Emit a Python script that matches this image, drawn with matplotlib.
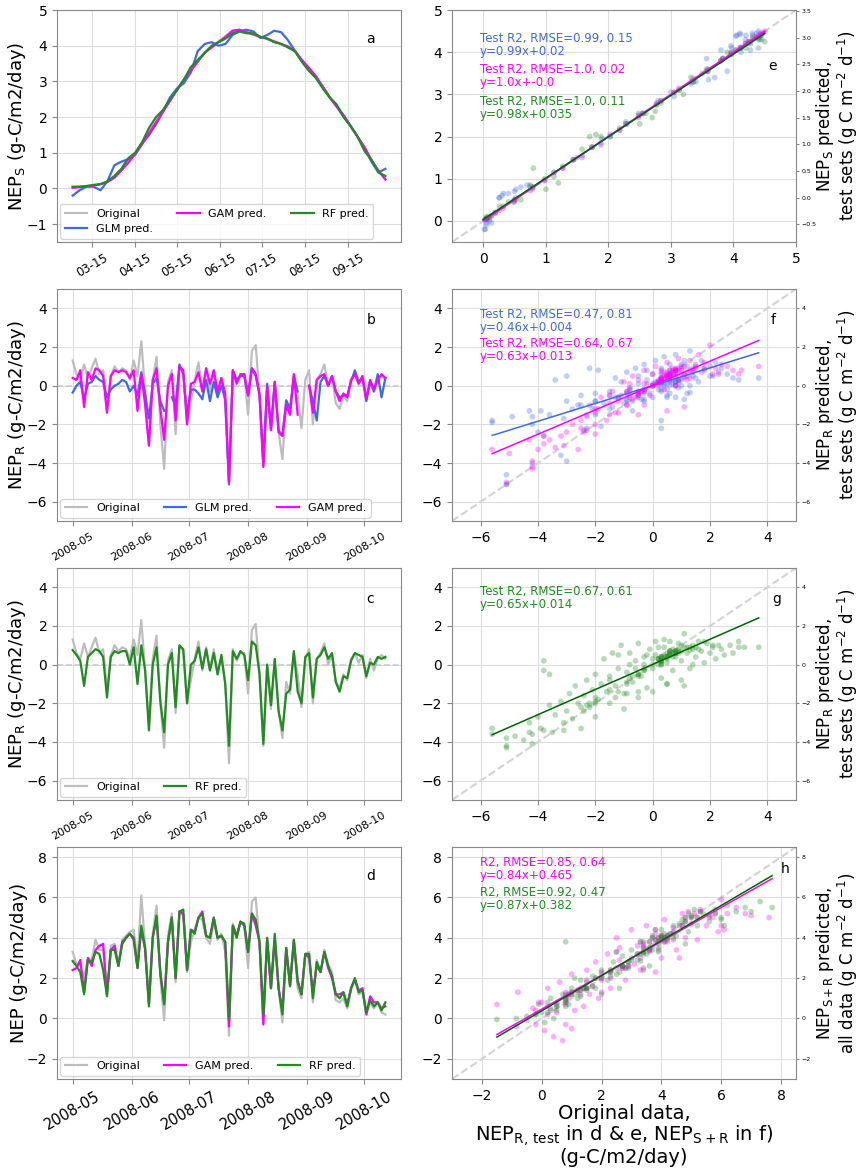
import numpy as np
import pandas as pd
import matplotlib
matplotlib.use("Agg")
import matplotlib.pyplot as plt
import matplotlib.dates as mdates

# ---- panel a: seasonal NEP_S, every 5 days from 1 Mar ----
a_dates = pd.date_range("2008-03-01", periods=46, freq="5D")
a_orig = [0.03, 0.05, 0.06, 0.09, 0.13, 0.19, 0.32, 0.52, 0.75, 0.98,
          1.27, 1.58, 1.88, 2.18, 2.48, 2.77, 3.05, 3.32, 3.57, 3.80,
          3.97, 4.12, 4.27, 4.42, 4.44, 4.37, 4.31, 4.24, 4.19, 4.11,
          4.04, 3.96, 3.83, 3.59, 3.36, 3.13, 2.84, 2.55, 2.28, 2.03,
          1.74, 1.44, 1.13, 0.79, 0.49, 0.26]
a_glm = [-0.20, -0.05, 0.05, 0.05, -0.05, 0.20, 0.65, 0.75, 0.82, 0.95,
         1.25, 1.50, 1.80, 2.15, 2.55, 2.80, 2.95, 3.25, 3.85, 4.05,
         4.10, 4.00, 4.05, 4.30, 4.40, 4.45, 4.40, 4.22, 4.30, 4.42,
         4.38, 4.15, 3.85, 3.55, 3.30, 3.10, 2.85, 2.55, 2.30, 2.00,
         1.75, 1.45, 1.15, 0.75, 0.45, 0.55]
a_gam = [0.02, 0.04, 0.06, 0.08, 0.12, 0.18, 0.30, 0.50, 0.72, 0.97,
         1.25, 1.55, 1.85, 2.15, 2.45, 2.76, 3.05, 3.30, 3.55, 3.80,
         3.95, 4.10, 4.25, 4.42, 4.45, 4.38, 4.32, 4.25, 4.20, 4.12,
         4.05, 3.98, 3.85, 3.60, 3.38, 3.15, 2.85, 2.55, 2.30, 2.05,
         1.75, 1.45, 1.15, 0.80, 0.50, 0.25]
a_rf = [0.05, 0.05, 0.07, 0.10, 0.12, 0.20, 0.35, 0.55, 0.85, 1.00,
        1.30, 1.70, 2.00, 2.20, 2.50, 2.75, 3.05, 3.40, 3.60, 3.80,
        4.00, 4.10, 4.20, 4.35, 4.40, 4.35, 4.35, 4.25, 4.20, 4.10,
        4.05, 3.95, 3.85, 3.55, 3.30, 3.10, 2.80, 2.55, 2.35, 2.00,
        1.75, 1.45, 1.05, 0.80, 0.45, 0.35]

# ---- panels b/c: NEP_R, every 2 days from 1 May ----
r_dates = pd.date_range("2008-05-01", periods=83, freq="2D")
nan = np.nan
b_orig = [1.3, 0.6, 0.3, 1.1, 0.4, 0.9, 1.4, 0.6, 0.8, -1.3,
          0.5, 1.0, 0.7, 0.9, 0.8, 0.3, 1.3, 0.5, 2.3, -0.3,
          -3.1, 0.3, 1.5, -2.0, -4.3, 0.2, 0.8, -2.5, 1.0, 0.7,
          -2.0, -0.8, 0.3, 1.2, -0.3, 0.9, -0.3, 0.8, -0.5, 0.4,
          -0.9, -5.1, 0.8, 0.2, 0.6, 0.6, -1.5, 1.8, 2.1, -0.5,
          -4.2, 0.0, -2.3, 0.2, -2.4, -3.8, -0.9, -1.5, 0.6, -0.5,
          -2.2, 0.3, 0.8, -2.0, 0.3, 0.6, 1.1, 0.0, 0.5, -0.9,
          -1.2, -0.5, -0.8, 0.3, 0.6, 0.1, 0.5, -0.7, 0.3, -0.3,
          0.3, 0.5, 0.3]
b_glm = [-0.35, 0.0, 0.2, -0.7, 0.1, 0.2, 0.5, 0.3, 0.2, -0.6,
         -0.2, 0.0, 0.1, 0.3, 0.2, -0.3, 0.0, -0.5, 0.7, -0.4,
         -1.7, 0.1, 0.4, -0.8, -1.3, nan, -0.6, -1.0, 1.1, 0.6,
         -1.5, -0.2, -0.2, -0.4, -0.7, 0.3, -0.8, 0.2, -0.6, 0.0,
         -0.7, -5.1, 0.8, 0.3, 0.5, 0.5, -0.5, 0.9, 0.5, -0.4,
         -4.0, 0.1, -2.2, 0.2, -2.3, -2.6, -0.75, -1.2, 0.5, -0.3,
         nan, nan, 0.0, -0.8, -1.8, 0.2, 0.5, 0.0, 0.5, -0.3,
         -0.6, -0.5, -0.5, 0.2, 0.8, 0.2, 0.4, -0.8, 0.2, -0.3,
         0.6, -0.6, 0.4]
b_gam = [0.4, 0.3, 0.8, -1.1, 0.7, 0.3, 0.9, 0.8, 0.5, -1.4,
         0.5, 0.8, 0.7, 0.8, 0.7, 0.4, 0.8, -1.3, 0.6, -1.0,
         -3.1, 0.3, 0.9, -1.2, -2.8, 0.0, 0.6, -1.8, 1.0, 0.8,
         -2.0, 0.1, 0.2, 0.7, -0.3, 0.9, 0.1, 0.8, -0.3, 0.4,
         -0.4, -5.0, 0.8, 0.1, 0.6, 0.6, -0.5, 0.9, 0.6, -0.5,
         -4.2, 0.0, -2.3, 0.2, -2.4, -2.6, -1.0, -1.5, 0.6, -1.5,
         nan, nan, 0.0, -1.4, 0.3, 0.5, 0.6, 0.0, 0.5, -0.3,
         -0.8, -0.4, -0.6, 0.3, 0.6, 0.1, 0.5, -0.7, 0.3, -0.2,
         0.3, 0.6, 0.4]
c_rf = [0.75, 0.5, 0.2, -1.1, 0.4, 0.6, 0.8, 0.7, 0.4, -1.7,
        0.4, 0.7, 0.6, 0.7, 0.7, 0.0, 0.9, -1.0, 1.0, -0.3,
        -3.4, 0.0, 0.9, -1.9, -3.5, 0.0, 0.6, -2.2, 1.0, 0.8,
        -2.0, 0.0, 0.2, 0.9, -0.2, 0.8, -0.3, 0.6, -0.5, 0.5,
        -1.0, -4.2, 0.7, 0.3, 0.7, 0.5, -0.8, 1.2, 1.0, -0.5,
        -4.1, 0.0, -2.1, 0.3, -2.4, -3.4, -1.5, -1.3, 0.7, -1.4,
        -2.0, 0.4, 0.6, -1.7, 0.3, 0.5, 0.9, 0.3, 0.6, -0.9,
        -1.4, -0.6, -0.7, 0.2, 0.6, 0.5, 0.4, -0.6, 0.1, 0.0,
        0.4, 0.3, 0.4]

# ---- panel d: NEP, every 2 days from 1 May ----
d_orig = [3.3, 2.7, 2.6, 2.0, 3.0, 2.9, 3.9, 3.4, 3.4, 1.3,
          3.6, 3.7, 2.7, 3.9, 4.1, 4.3, 4.4, 2.8, 6.1, 3.6,
          0.8, 4.2, 5.6, 2.0, -0.1, 4.1, 5.2, 1.8, 5.3, 5.1,
          2.3, 3.8, 4.4, 5.0, 4.9, 4.0, 3.7, 4.8, 3.9, 4.2,
          3.3, -0.85, 4.7, 4.0, 4.8, 4.6, 2.5, 5.8, 6.0, 3.6,
          -0.2, 4.0, 1.5, 4.1, 1.5, -0.2, 3.4, 1.7, 3.8, 1.5,
          1.0, 3.2, 3.3, 0.8, 2.9, 2.3, 3.4, 2.7, 2.3, 0.9,
          0.8, 1.0, 0.5, 1.4, 2.0, 1.2, 1.3, 0.2, 0.8, 0.5,
          0.8, 0.3, 0.2]
d_gam = [2.4, 2.5, 2.9, 1.3, 3.0, 2.6, 3.4, 3.6, 3.7, 1.2,
         3.4, 3.6, 2.6, 3.8, 4.0, 4.2, 3.9, 2.5, 4.4, 3.4,
         0.7, 4.0, 5.0, 2.3, 0.8, 3.8, 5.0, 2.0, 5.3, 5.2,
         2.4, 4.4, 4.3, 5.0, 5.3, 4.1, 4.0, 5.0, 4.0, 4.1,
         3.8, -0.4, 4.6, 4.1, 4.8, 4.6, 3.3, 5.2, 4.6, 3.8,
         -0.3, 3.9, 1.5, 3.9, 1.5, 0.4, 3.5, 1.6, 3.9, 1.9,
         1.2, 3.2, 3.0, 1.3, 2.6, 2.3, 3.3, 2.5, 2.0, 1.2,
         1.2, 1.3, 0.7, 1.5, 1.9, 1.4, 1.5, 0.2, 1.1, 0.8,
         0.8, 0.5, 0.6]
d_rf = [2.85, 2.6, 2.3, 1.2, 2.9, 2.8, 3.3, 3.2, 2.4, 1.1,
        3.4, 3.4, 2.6, 3.7, 4.0, 4.2, 4.0, 2.5, 4.6, 3.5,
        0.6, 4.0, 5.1, 2.2, 0.7, 3.8, 5.0, 2.0, 5.3, 5.4,
        2.4, 4.4, 4.2, 5.0, 5.2, 4.1, 4.0, 5.0, 4.0, 4.1,
        3.8, 0.0, 4.6, 4.0, 4.8, 4.7, 3.3, 5.2, 4.9, 3.8,
        0.2, 4.0, 1.5, 4.2, 1.5, 0.2, 3.5, 1.6, 3.9, 1.8,
        1.2, 3.2, 3.2, 1.0, 2.8, 2.3, 3.3, 2.6, 2.1, 1.2,
        1.0, 1.3, 0.6, 1.5, 2.0, 1.3, 1.4, 0.3, 0.9, 0.6,
        0.8, 0.4, 0.8]

# ---- other test-set points (x=original, y=pred) ----
e_glm_extra = [(0.02, -0.2), (0.05, -0.1), (0.1, 0.0), (0.25, 0.55), (0.3, 0.6),
               (0.4, 0.65), (0.5, 0.7), (0.6, 0.8), (0.7, 0.85), (1.9, 1.95),
               (2.8, 2.85), (3.4, 3.3), (3.6, 3.35), (3.7, 3.4), (4.05, 4.4),
               (4.1, 4.45), (4.2, 4.4), (4.3, 4.45), (4.4, 4.5), (4.4, 4.1),
               (4.45, 4.3), (3.9, 3.55), (3.0, 3.05), (2.3, 2.3)]
e_gam_extra = [(1.5, 1.5), (2.5, 2.5), (4.5, 4.5), (4.47, 4.45), (3.8, 3.8), (0.5, 0.5)]
e_rf_extra = [(0.8, 1.25), (1.0, 0.75), (1.2, 0.9), (1.7, 2.0), (1.8, 2.05), (2.5, 2.3),
              (2.6, 2.55), (2.7, 2.45), (2.75, 2.6), (3.2, 3.0), (3.5, 3.5), (3.9, 4.0),
              (4.2, 4.1), (4.4, 4.3), (4.5, 4.25), (0.05, 0.1), (0.4, 0.45), (0.6, 0.5)]

f_glm_extra = [(-5.6, -1.9), (-5.6, -1.8), (-5.1, -4.6), (-5.1, -5.1), (-4.9, -1.6),
               (-4.2, -1.6), (-4.2, -2.0), (-4.0, -2.4), (-3.9, -1.3), (-3.6, -1.5),
               (-3.4, 0.3), (-3.0, 0.5), (-3.2, -3.6), (-3.0, -3.9), (-3.0, -0.8),
               (-2.8, -1.2), (-2.6, -1.0), (-2.5, -0.5), (-2.3, -1.5), (-2.2, 0.9),
               (-2.1, -1.2), (-2.0, -0.4), (-1.9, 0.8), (-1.8, -2.1), (-1.7, -0.9),
               (-1.5, -0.3), (-1.4, -1.1), (-1.3, 0.4), (-1.2, -0.6), (-1.1, 0.2),
               (-1.0, -0.9), (-0.9, 0.7), (-0.8, -0.2), (-0.7, -1.3), (-0.6, 0.9),
               (-0.5, 0.1), (-0.4, -0.7), (-0.3, 1.1), (-0.2, 0.3), (-0.1, -0.4),
               (0.0, 0.6), (0.1, 1.3), (0.2, -0.2), (0.3, 0.9), (0.3, -2.2),
               (0.4, 1.5), (0.5, 0.1), (0.6, 1.1), (0.7, 0.4), (0.8, 1.6),
               (0.9, -0.1), (1.0, 0.9), (1.1, 1.3), (1.2, 0.5), (1.3, 1.8),
               (1.4, 0.7), (1.5, 1.1), (1.6, 0.2), (1.7, 1.3), (1.8, 0.8),
               (2.0, 0.5), (2.2, 1.2), (2.4, 0.9), (2.6, 0.6), (2.8, 0.4),
               (3.0, 0.3), (3.7, 0.4), (0.0, -0.6), (0.5, 0.7), (1.0, 0.3),
               (-0.5, 0.5), (0.8, 0.9), (1.2, 1.0), (-0.2, 0.8), (0.6, -0.4)]
f_gam_extra = [(-5.6, -3.3), (-5.0, -3.5), (-4.2, -4.3), (-4.2, -3.9), (-4.0, -3.3),
               (-3.8, -3.0), (-3.6, -2.8), (-3.4, -3.2), (-3.2, -2.6), (-3.0, -2.4),
               (-2.8, -2.0), (-2.6, -3.3), (-2.5, -2.2), (-2.3, -1.6), (-2.2, -1.0),
               (-2.0, -2.5), (-1.9, -1.2), (-1.8, -0.6), (-1.6, -1.8), (-1.5, -0.9),
               (-1.4, -0.3), (-1.2, -1.4), (-1.1, -0.5), (-1.0, 0.2), (-0.9, -1.0),
               (-0.8, -0.1), (-0.7, 0.5), (-0.6, -0.6), (-0.5, 0.3), (-0.4, -0.3),
               (-0.3, 0.8), (-0.2, 0.1), (-0.1, -0.5), (0.0, 0.6), (0.1, 1.0),
               (0.2, 0.2), (0.3, 0.7), (0.4, -0.2), (0.5, 1.2), (0.6, 0.4),
               (0.7, 0.9), (0.8, 0.0), (0.9, 1.4), (1.0, 0.6), (1.1, 1.0),
               (1.2, 0.3), (1.3, 1.3), (1.4, 0.8), (1.5, 1.0), (1.6, 1.6),
               (1.7, 0.7), (1.8, 1.2), (2.0, 1.0), (2.2, 0.9), (2.4, 1.1),
               (2.6, 1.0), (2.8, 0.8), (3.0, 0.6), (3.1, 0.8), (3.7, 1.0),
               (2.0, 2.1), (0.4, 0.5), (0.0, 0.0), (-0.3, -0.2), (0.8, 0.8), (1.1, 0.4)]
g_rf_extra = [(-5.6, -3.3), (-5.6, -3.6), (-5.1, -3.8), (-5.1, -4.3), (-4.8, -3.7),
              (-4.5, -3.9), (-4.3, -3.0), (-4.2, -3.6), (-4.0, -2.7), (-3.9, -3.3),
              (-3.8, 0.2), (-3.8, -0.3), (-3.6, -0.5), (-3.6, -2.1), (-3.5, -3.5),
              (-3.4, -2.6), (-3.2, -1.9), (-3.1, -3.0), (-3.0, -2.4), (-2.9, -1.5),
              (-2.8, -2.8), (-2.7, -1.1), (-2.6, -2.0), (-2.5, -3.3), (-2.4, -1.6),
              (-2.3, -0.8), (-2.2, -2.2), (-2.1, -1.3), (-2.0, -0.5), (-1.9, -1.8),
              (-1.8, -1.0), (-1.7, 0.3), (-1.6, -1.4), (-1.5, -0.6), (-1.4, 0.6),
              (-1.3, -1.1), (-1.2, -0.2), (-1.1, 1.0), (-1.0, -1.5), (-0.9, -0.4),
              (-0.8, 0.6), (-0.7, -0.9), (-0.6, 0.2), (-0.5, 1.1), (-0.4, -0.6),
              (-0.3, 0.4), (-0.2, -1.2), (-0.1, 0.8), (0.0, -0.2), (0.1, 1.2),
              (0.2, 0.3), (0.3, -0.7), (0.4, 0.9), (0.5, 0.1), (0.6, 1.2),
              (0.7, -0.3), (0.8, 0.7), (0.9, 1.1), (1.0, 0.2), (1.1, 1.6),
              (1.2, 0.6), (1.3, -0.2), (1.4, 1.0), (1.5, 0.4), (1.6, 1.2),
              (1.7, 0.7), (1.8, 0.1), (1.9, 1.1), (2.0, 0.6), (2.1, 0.9),
              (2.2, 0.3), (2.4, 0.8), (2.5, 0.5), (2.7, 1.0), (2.8, 0.6),
              (3.0, 0.9), (3.0, 1.2), (3.2, 0.9), (3.7, 0.9), (-1.0, -2.3),
              (-0.5, -1.7), (0.0, -1.4), (0.5, -1.0), (1.0, -0.8), (-2.0, -2.7),
              (-1.5, -2.0), (0.2, 0.9), (-0.6, -0.2), (0.7, 0.4), (-1.2, 0.5),
              (1.4, 0.0), (-0.2, 0.5), (0.4, 1.3), (1.6, 0.8)]
h_gam_extra = [(-1.5, 0.7), (-0.8, 1.3), (-0.5, -0.1), (-0.3, 0.5), (0.0, 0.8),
               (0.1, -0.6), (0.2, 1.5), (0.4, -0.9), (0.5, 0.3), (0.6, 1.8),
               (0.8, -0.3), (0.9, 1.0), (1.0, 2.2), (1.1, 0.4), (1.2, 1.4),
               (1.4, 0.6), (1.5, 2.4), (1.6, 1.2), (1.8, 2.8), (1.9, 1.0),
               (2.0, 2.0), (2.2, 3.2), (2.3, 1.5), (2.5, 2.5), (2.6, 3.5),
               (2.8, 1.9), (3.0, 4.4), (3.1, 2.7), (3.2, 3.6), (3.4, 2.5),
               (3.5, 4.6), (3.6, 3.3), (3.8, 4.2), (4.0, 3.0), (4.1, 4.9),
               (4.2, 3.8), (4.4, 4.5), (4.5, 3.4), (4.7, 5.2), (4.8, 4.0),
               (5.0, 4.7), (5.2, 3.9), (5.3, 5.4), (5.5, 4.6), (5.7, 5.0),
               (5.9, 4.3), (6.0, 5.9), (6.2, 5.2), (6.5, 5.5), (6.8, 5.2),
               (7.0, 5.1), (7.6, 5.0), (2.5, 4.0), (1.0, -0.5), (0.7, -1.1),
               (3.8, 2.3), (4.6, 3.0)]
h_rf_extra = [(-1.5, -0.05), (-0.5, 0.1), (0.0, 0.3), (0.1, -0.2), (0.3, 1.0),
              (0.5, 0.4), (0.7, 1.2), (0.8, 3.8), (0.9, 0.7), (1.0, 1.5),
              (1.2, 1.0), (1.3, 1.9), (1.5, 1.4), (1.7, 2.1), (1.8, 1.5),
              (2.0, 2.4), (2.2, 1.9), (2.4, 2.8), (2.5, 2.2), (2.7, 3.1),
              (2.9, 2.5), (3.0, 3.4), (3.2, 2.9), (3.4, 3.8), (3.5, 3.2),
              (3.7, 4.1), (3.9, 3.5), (4.0, 4.4), (4.2, 3.9), (4.4, 4.6),
              (4.5, 4.1), (4.7, 4.9), (4.9, 4.3), (5.0, 5.1), (5.2, 4.6),
              (5.4, 5.2), (5.6, 4.8), (5.8, 5.4), (6.0, 5.0), (6.2, 5.6),
              (6.5, 5.3), (6.8, 5.5), (7.0, 5.3), (7.3, 5.8), (7.7, 5.5),
              (2.6, 1.5), (3.6, 2.6), (1.1, 2.0), (4.8, 3.7), (0.4, 0.0)]

# ---- fit lines (slope, intercept) and their x extents, as printed ----
fit_e = {"GLM": (0.99, 0.02), "GAM": (1.0, -0.0), "RF": (0.98, 0.035)}
fit_f = {"GLM": (0.46, 0.004), "GAM": (0.63, 0.013)}
fit_g = {"RF": (0.65, 0.014)}
fit_h = {"GAM": (0.84, 0.465), "RF": (0.87, 0.382)}
xrange_e = [0.0, 4.5]
xrange_fg = [-5.6, 3.7]
xrange_h = [-1.5, 7.7]

stats_e = ["Test R2, RMSE=0.99, 0.15\ny=0.99x+0.02",
           "Test R2, RMSE=1.0, 0.02\ny=1.0x+-0.0",
           "Test R2, RMSE=1.0, 0.11\ny=0.98x+0.035"]
stats_f = ["Test R2, RMSE=0.47, 0.81\ny=0.46x+0.004",
           "Test R2, RMSE=0.64, 0.67\ny=0.63x+0.013"]
stats_g = ["Test R2, RMSE=0.67, 0.61\ny=0.65x+0.014"]
stats_h = ["R2, RMSE=0.85, 0.64\ny=0.84x+0.465",
           "R2, RMSE=0.92, 0.47\ny=0.87x+0.382"]

C_ORIG = "#BDBDBD"
C_GLM = "royalblue"
C_GAM = "magenta"
C_RF = "forestgreen"
FIT_COL = {"GLM": "royalblue", "GAM": "magenta", "RF": "darkgreen"}

fig = plt.figure(figsize=(8.6, 11.68), dpi=100)

LX, RX, W = 0.0663, 0.5256, 0.400
rows_b = [0.7928, 0.5539, 0.3151, 0.0762]
H = 0.1986


def pts(base_x, base_y, extra):
    xs = list(base_x) + [p[0] for p in extra]
    ys = list(base_y) + [p[1] for p in extra]
    return xs, ys


def style_ax(ax):
    for s in ax.spines.values():
        s.set_color("#888888")
    ax.grid(True, color="#DDDDDD", linewidth=0.8)
    ax.set_axisbelow(True)
    ax.tick_params(labelsize=10, color="#888888")


def ts_panel(ax, dates, series, letter, ylabel, ylim, yticks, date_fmt, tick_fs):
    style_ax(ax)
    for vals, col, lab in series:
        ax.plot(dates, vals, color=col, lw=1.6, label=lab)
    ax.set_ylim(*ylim)
    ax.set_yticks(yticks)
    ax.set_ylabel(ylabel, fontsize=13)
    ax.yaxis.set_label_coords(-0.085, 0.5)
    ax.text(0.9, 0.86 if letter in "ad" else 0.85, letter, transform=ax.transAxes,
            fontsize=10)
    ax.legend(loc="lower left", ncol=3, fontsize=8, framealpha=0.8,
              borderaxespad=0.3, columnspacing=2.2)
    ax.xaxis.set_major_formatter(mdates.DateFormatter(date_fmt))
    for lb in ax.get_xticklabels():
        lb.set_rotation(30)
        lb.set_fontsize(tick_fs)


def sc_panel(ax, clouds, fits, xr, stats, stat_y, letter, letter_xy, lim,
             ticks, right_lim, right_ticks, right_label):
    style_ax(ax)
    ax.plot([lim[0], 10], [lim[0], 10], ls="--", color="#D3D3D3", lw=1.5, zorder=1)
    for xv, yv, col in clouds:
        ax.scatter(xv, yv, s=17, color=col, alpha=0.32, edgecolors="none", zorder=2)
    for name, (m, c) in fits.items():
        xx = np.array(xr)
        ax.plot(xx, m * xx + c, color=FIT_COL[name], lw=1.1, zorder=3)
    cols = [col for _, _, col in clouds]
    for txt, yy, col in zip(stats, stat_y, cols):
        ax.text(0.08, yy, txt, transform=ax.transAxes, color=col, fontsize=8.5,
                va="top", linespacing=1.0)
    ax.text(letter_xy[0], letter_xy[1], letter, transform=ax.transAxes, fontsize=10)
    ax.set_xlim(lim[0], lim[1])
    ax.set_ylim(lim[2], lim[3])
    ax.set_xticks(ticks[0])
    ax.set_yticks(ticks[1])
    ax2 = ax.twinx()
    ax2.set_ylim(*right_lim)
    ax2.set_yticks(right_ticks)
    ax2.tick_params(labelsize=4.5, color="#888888", length=2.5, pad=1.5)
    for s in ax2.spines.values():
        s.set_visible(False)
    ax2.set_ylabel(right_label, fontsize=12, linespacing=1.0)
    ax2.yaxis.set_label_coords(1.052, 0.5)
    return ax2


# ---- left column ----
ax_a = fig.add_axes([LX, rows_b[0], W, H])
ts_panel(ax_a, a_dates,
         [(a_orig, C_ORIG, "Original"), (a_glm, C_GLM, "GLM pred."),
          (a_gam, C_GAM, "GAM pred."), (a_rf, C_RF, "RF pred.")],
         "a", r"NEP$_\mathrm{S}$ (g-C/m2/day)", (-1.5, 5), range(-1, 6),
         "%m-%d", 8.5)
ax_a.xaxis.set_major_locator(mdates.MonthLocator(bymonth=range(3, 10), bymonthday=15))

ax_b = fig.add_axes([LX, rows_b[1], W, H])
ax_b.axhline(0, color="#CCCCCC", ls="--", lw=1.2)
ts_panel(ax_b, r_dates,
         [(b_orig, C_ORIG, "Original"), (b_glm, C_GLM, "GLM pred."),
          (b_gam, C_GAM, "GAM pred.")],
         "b", r"NEP$_\mathrm{R}$ (g-C/m2/day)", (-7, 5), range(-6, 5, 2),
         "%Y-%m", 8)
ax_b.xaxis.set_major_locator(mdates.MonthLocator())

ax_c = fig.add_axes([LX, rows_b[2], W, H])
ax_c.axhline(0, color="#CCCCCC", ls="--", lw=1.2)
ts_panel(ax_c, r_dates,
         [(b_orig, C_ORIG, "Original"), (c_rf, C_RF, "RF pred.")],
         "c", r"NEP$_\mathrm{R}$ (g-C/m2/day)", (-7, 5), range(-6, 5, 2),
         "%Y-%m", 8)
ax_c.xaxis.set_major_locator(mdates.MonthLocator())

ax_d = fig.add_axes([LX, rows_b[3], W, H])
ts_panel(ax_d, r_dates,
         [(d_orig, C_ORIG, "Original"), (d_gam, C_GAM, "GAM pred."),
          (d_rf, C_RF, "RF pred.")],
         "d", "NEP (g-C/m2/day)", (-3, 8.5), range(-2, 9, 2),
         "%Y-%m", 10.5)
ax_d.xaxis.set_major_locator(mdates.MonthLocator())

# ---- right column ----
lab_rt = r"predicted," + "\n" + r"test sets (g C m$^{-2}$ d$^{-1}$)"
ax_e = fig.add_axes([RX, rows_b[0], W, H])
sc_panel(ax_e,
         [(*pts(a_orig, a_glm, e_glm_extra), C_GLM),
          (*pts(a_orig, a_gam, e_gam_extra), C_GAM),
          (*pts(a_orig, a_rf, e_rf_extra), C_RF)],
         fit_e, xrange_e, stats_e, [0.905, 0.77, 0.634], "e", (0.92, 0.74),
         (-0.5, 5, -0.5, 5), (range(0, 6), range(0, 6)),
         (-0.83, 3.52), np.arange(-0.5, 3.6, 0.5),
         r"NEP$_\mathrm{S}$ " + lab_rt)

ax_f = fig.add_axes([RX, rows_b[1], W, H])
sc_panel(ax_f,
         [(*pts(b_orig, b_glm, f_glm_extra), C_GLM),
          (*pts(b_orig, b_gam, f_gam_extra), C_GAM)],
         fit_f, xrange_fg, stats_f, [0.92, 0.795], "f", (0.925, 0.85),
         (-7, 5, -7, 5), (range(-6, 5, 2), range(-6, 5, 2)),
         (-7, 5), range(-6, 5, 2),
         r"NEP$_\mathrm{R}$ " + lab_rt)

ax_g = fig.add_axes([RX, rows_b[2], W, H])
sc_panel(ax_g, [(*pts(b_orig, c_rf, g_rf_extra), C_RF)],
         fit_g, xrange_fg, stats_g, [0.927], "g", (0.93, 0.85),
         (-7, 5, -7, 5), (range(-6, 5, 2), range(-6, 5, 2)),
         (-7, 5), range(-6, 5, 2),
         r"NEP$_\mathrm{R}$ " + lab_rt)

ax_h = fig.add_axes([RX, rows_b[3], W, H])
sc_panel(ax_h,
         [(*pts(d_orig, d_gam, h_gam_extra), C_GAM),
          (*pts(d_orig, d_rf, h_rf_extra), C_RF)],
         fit_h, xrange_h, stats_h, [0.96, 0.83], "h", (0.955, 0.89),
         (-3, 8.5, -3, 8.5), (range(-2, 9, 2), range(-2, 9, 2)),
         (-3, 8.5), range(-2, 9, 2),
         r"NEP$_\mathrm{S+R}$ predicted," + "\n" + r"all data (g C m$^{-2}$ d$^{-1}$)")
ax_h.set_xlabel("Original data,\n" + r"NEP$_\mathrm{R,\,test}$ in d & e, "
                r"NEP$_\mathrm{S+R}$ in f)" + "\n(g-C/m2/day)", fontsize=14,
                linespacing=1.0, labelpad=1)

fig.savefig("out.png", dpi=100)
